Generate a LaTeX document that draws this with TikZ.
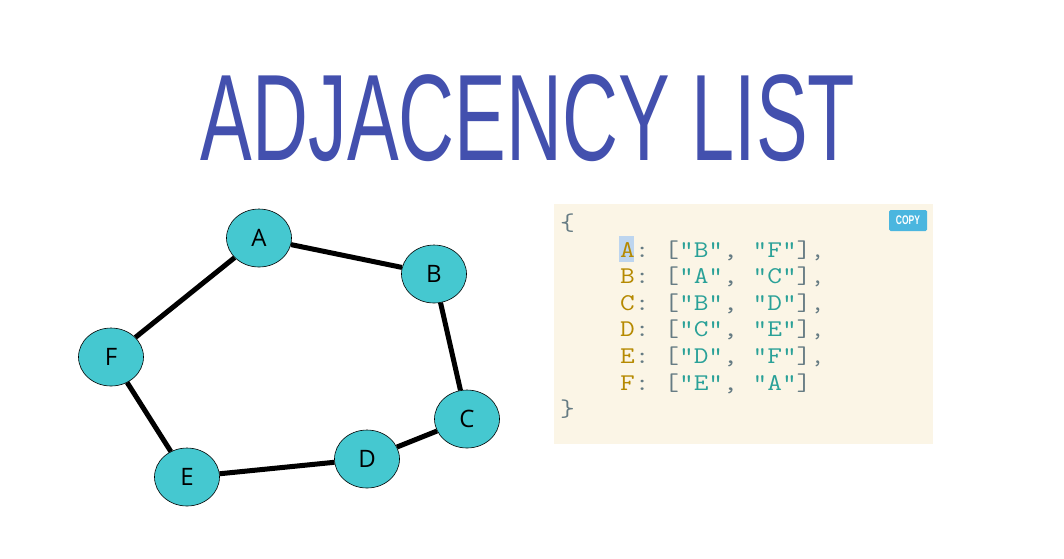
\documentclass[tikz,border=0pt]{standalone}
\usepackage{fontspec}
\usepackage{graphicx}
\usetikzlibrary{shapes.geometric}
\setmainfont{Open Sans}
\newfontfamily\titlefont{Liberation Sans}
\newfontfamily\codefont{Latin Modern Mono}
\newfontfamily\btnfont{Liberation Sans}
\definecolor{titleblue}{RGB}{67,80,174}
\definecolor{nodecyan}{RGB}{69,200,208}
\definecolor{codebg}{RGB}{251,245,230}
\definecolor{keycol}{RGB}{181,137,0}
\definecolor{strcol}{RGB}{42,161,152}
\definecolor{puncol}{RGB}{101,123,131}
\definecolor{hlcol}{RGB}{189,213,239}
\definecolor{btncol}{RGB}{75,182,223}
\newcommand{\K}[1]{\textcolor{keycol}{#1}}
\newcommand{\Sx}[1]{\textcolor{strcol}{"#1"}}
\newcommand{\codeline}[3]{\scalebox{1.19}[1]{\K{#1}: [\Sx{#2}, \Sx{#3}]}}
\tikzset{
  vtx/.style={ellipse, draw=black, line width=0.6pt, fill=nodecyan, minimum width=65pt, minimum height=58pt, inner sep=0pt, font=\fontsize{24}{24}\selectfont},
  edge/.style={line width=5pt, draw=black},
  codetxt/.style={anchor=base west, inner sep=0pt, text=puncol, font=\codefont\fontsize{24}{24}\selectfont}
}
\begin{document}
\begin{tikzpicture}[x=1pt,y=-1pt]
\useasboundingbox (0,0) rectangle (1064,558);
\fill[white] (0,0) rectangle (1064,558);
% title
\node[text=titleblue, inner sep=0pt, anchor=base] (title) at (528,160) {\scalebox{0.63}[1]{\titlefont\fontsize{123}{123}\selectfont ADJACENCY LIST}};
% graph
\node[vtx] (A) at (259,238) {A};
\node[vtx] (B) at (434,274) {B};
\node[vtx] (C) at (467,419) {C};
\node[vtx] (D) at (367,459) {D};
\node[vtx] (E) at (187,477) {E};
\node[vtx] (F) at (111,357) {F};
\draw[edge] (A) -- (B);
\draw[edge] (B) -- (C);
\draw[edge] (C) -- (D);
\draw[edge] (D) -- (E);
\draw[edge] (E) -- (F);
\draw[edge] (F) -- (A);
% code box
\fill[codebg] (554,204) rectangle (933,444);
\node[fill=btncol, rounded corners=1.5pt, minimum width=38pt, minimum height=21pt, inner sep=0pt, text=white] (copy) at (908,220.5) {\scalebox{0.68}[1]{\btnfont\bfseries\fontsize{12.5}{12.5}\selectfont COPY}};
\fill[hlcol] (619,236) rectangle (634,262);
\node[codetxt] (l0) at (560,230.5) {\scalebox{1.19}[1]{\{}};
\node[codetxt] (l1) at (620,257) {\codeline{A}{B}{F},};
\node[codetxt] (l2) at (620,283.6) {\codeline{B}{A}{C},};
\node[codetxt] (l3) at (620,310.2) {\codeline{C}{B}{D},};
\node[codetxt] (l4) at (620,336.8) {\codeline{D}{C}{E},};
\node[codetxt] (l5) at (620,363.4) {\codeline{E}{D}{F},};
\node[codetxt] (l6) at (620,390) {\codeline{F}{E}{A}};
\node[codetxt] (l7) at (560,416.6) {\scalebox{1.19}[1]{\}}};
\end{tikzpicture}
\end{document}
